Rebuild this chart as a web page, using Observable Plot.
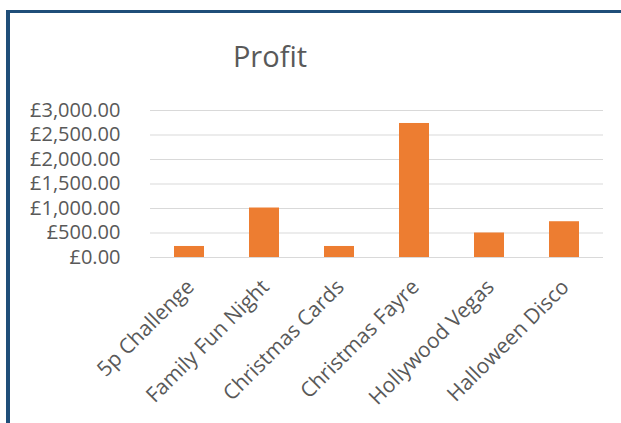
<!DOCTYPE html>
<html><head><meta charset="utf-8">
<script src="https://cdn.jsdelivr.net/npm/d3@7"></script>
<script src="https://cdn.jsdelivr.net/npm/@observablehq/plot@0.6"></script>
<style>
body{margin:0;background:#fff;}
#wrap{position:relative;width:621px;height:423px;overflow:hidden;font-family:"Open Sans",sans-serif;background:#fff;}
#frame{position:absolute;left:6px;top:10px;width:700px;height:500px;border-left:4px solid #1f4e79;border-top:3px solid #1f4e79;box-sizing:border-box;}
#title{position:absolute;left:0;top:41px;width:540px;text-align:center;font-size:29px;line-height:29px;color:#595959;}
#chart{position:absolute;left:0;top:0;}
</style>
</head><body>
<div id="wrap">
  <div id="frame"></div>
  <div id="title">Profit</div>
  <div id="chart"></div>
</div>
<script>
const categories = ["5p Challenge","Family Fun Night","Christmas Cards","Christmas Fayre","Hollywood Vegas","Halloween Disco"];
const profit = [225, 1010, 225, 2735, 500, 730];
const yTicks = [0, 500, 1000, 1500, 2000, 2500, 3000];

const data = categories.map((c, i) => ({category: c, profit: profit[i]}));
const gbp = d3.formatLocale({decimal: ".", thousands: ",", grouping: [3], currency: ["£", ""]}).format("$,.2f");

const chart = Plot.plot({
  width: 621,
  height: 423,
  marginLeft: 150,
  marginRight: 18,
  marginTop: 110,
  marginBottom: 166,
  style: {fontFamily: "Open Sans", fontSize: "21px", color: "#595959", background: "transparent"},
  x: {domain: categories, paddingInner: 0.6, paddingOuter: 0.3},
  y: {domain: [0, 3000]},
  marks: [
    Plot.ruleY(yTicks, {stroke: "#d9d9d9", strokeWidth: 1.2}),
    Plot.barY(data, {x: "category", y: "profit", fill: "#ed7d31"}),
    Plot.axisY(yTicks, {tickSize: 0, tickPadding: 30, tickFormat: gbp, label: null, fontSize: 20}),
    Plot.axisX({tickSize: 0, tickPadding: 12, tickRotate: -45, label: null, fontSize: 21, dx: 1, dy: 14})
  ]
});
document.getElementById("chart").appendChild(chart);
</script>
</body></html>
